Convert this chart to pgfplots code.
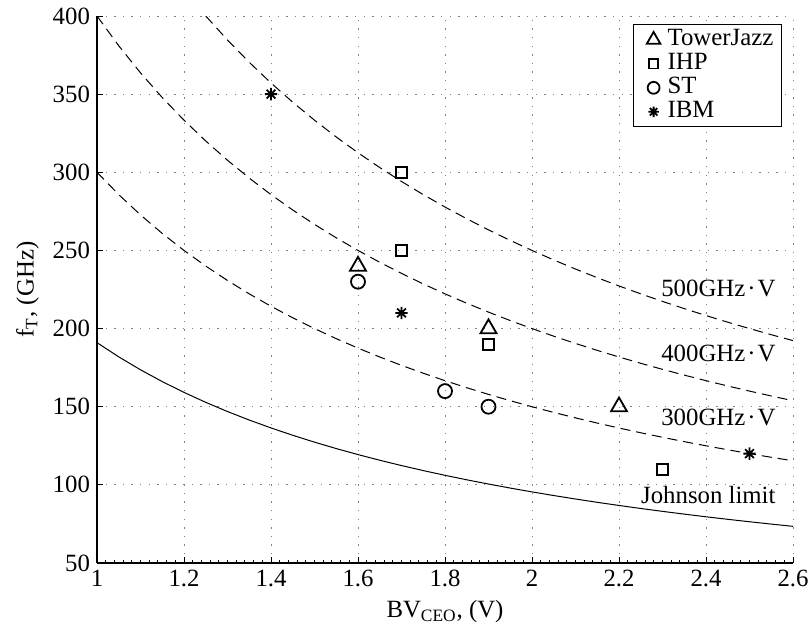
\documentclass[border=0pt]{standalone}
\usepackage{fontspec}
\setmainfont{Liberation Serif}
\usepackage{pgfplots}
\pgfplotsset{compat=1.18}
\pgfdeclareplotmark{mstar}{%
 \pgfpathmoveto{\pgfqpoint{-\pgfplotmarksize}{0pt}}\pgfpathlineto{\pgfqpoint{\pgfplotmarksize}{0pt}}%
 \pgfpathmoveto{\pgfqpoint{0pt}{-\pgfplotmarksize}}\pgfpathlineto{\pgfqpoint{0pt}{\pgfplotmarksize}}%
 \pgfpathmoveto{\pgfqpoint{-0.7071\pgfplotmarksize}{-0.7071\pgfplotmarksize}}\pgfpathlineto{\pgfqpoint{0.7071\pgfplotmarksize}{0.7071\pgfplotmarksize}}%
 \pgfpathmoveto{\pgfqpoint{-0.7071\pgfplotmarksize}{0.7071\pgfplotmarksize}}\pgfpathlineto{\pgfqpoint{0.7071\pgfplotmarksize}{-0.7071\pgfplotmarksize}}%
 \pgfusepathqstroke}
\begin{document}
\begin{tikzpicture}[font=\fontsize{12.4}{14}\selectfont]
\begin{axis}[
  scale only axis,
  width=348pt, height=273.5pt,
  xmin=1, xmax=2.6, ymin=50, ymax=400,
  xtick={1,1.2,...,2.6}, ytick={50,100,...,400},
  minor x tick num=9,
  axis x line*=bottom, axis y line*=left,
  axis line style={-, line width=0.6pt},
  tick align=inside,
  major tick length=3pt, minor tick length=1.5pt,
  tick style={black, line width=0.5pt},
  grid=major,
  major grid style={gray, line width=0.5pt, dash pattern=on 0.7pt off 3.6pt},
  /pgf/number format/assume math mode=true,
  xlabel={BV\textsubscript{CEO}, (V)},
  ylabel={f\textsubscript{T}, (GHz)},
  legend style={at={(0.984,0.985)}, anchor=north east, draw=black, line width=0.6pt,
    legend cell align=left, inner xsep=2pt, inner ysep=2pt, row sep=1pt,
    nodes={inner xsep=2pt, inner ysep=0pt, text height=8.5pt, text depth=2.5pt}},
  legend image code/.code={%
    \path[draw=none, fill=none] (0,0) -- (13pt,0);
    \draw[#1, draw=none, mark options={scale=0.85, draw=black}] plot coordinates {(8pt,0pt)};},
  legend entries={TowerJazz\hspace{15pt}, IHP, ST, IBM},
]
\addplot[only marks, mark=triangle, mark size=4.6pt, line width=0.9pt] coordinates {(1.6,240) (1.9,200) (2.2,150)};
\addplot[only marks, mark=square, mark size=2.8pt, line width=0.9pt] coordinates {(1.7,300) (1.7,250) (1.9,190) (2.3,110)};
\addplot[only marks, mark=o, mark size=3.5pt, line width=0.9pt] coordinates {(1.6,230) (1.8,160) (1.9,150)};
\addplot[only marks, mark=mstar, mark size=3.1pt, line width=0.9pt] coordinates {(1.4,350) (1.7,210) (2.5,120)};

\addplot[black, line width=0.5pt, dash pattern=on 5pt off 3pt, forget plot] coordinates {
(1.25,400) (1.3,384.615) (1.35,370.370) (1.4,357.143) (1.45,344.828) (1.5,333.333) (1.55,322.581) (1.6,312.5) (1.65,303.030) (1.7,294.118) (1.75,285.714) (1.8,277.778) (1.85,270.270) (1.9,263.158) (1.95,256.410) (2.0,250) (2.05,243.902) (2.1,238.095) (2.15,232.558) (2.2,227.273) (2.25,222.222) (2.3,217.391) (2.35,212.766) (2.4,208.333) (2.45,204.082) (2.5,200) (2.55,196.078) (2.6,192.308)};
\addplot[black, line width=0.5pt, dash pattern=on 5pt off 3pt, forget plot] coordinates {
(1.0,400) (1.05,380.952) (1.1,363.636) (1.15,347.826) (1.2,333.333) (1.25,320) (1.3,307.692) (1.35,296.296) (1.4,285.714) (1.45,275.862) (1.5,266.667) (1.55,258.065) (1.6,250) (1.65,242.424) (1.7,235.294) (1.75,228.571) (1.8,222.222) (1.85,216.216) (1.9,210.526) (1.95,205.128) (2.0,200) (2.05,195.122) (2.1,190.476) (2.15,186.047) (2.2,181.818) (2.25,177.778) (2.3,173.913) (2.35,170.213) (2.4,166.667) (2.45,163.265) (2.5,160) (2.55,156.863) (2.6,153.846)};
\addplot[black, line width=0.5pt, dash pattern=on 5pt off 3pt, forget plot] coordinates {
(1.0,300) (1.05,285.714) (1.1,272.727) (1.15,260.870) (1.2,250) (1.25,240) (1.3,230.769) (1.35,222.222) (1.4,214.286) (1.45,206.897) (1.5,200) (1.55,193.548) (1.6,187.5) (1.65,181.818) (1.7,176.471) (1.75,171.429) (1.8,166.667) (1.85,162.162) (1.9,157.895) (1.95,153.846) (2.0,150) (2.05,146.341) (2.1,142.857) (2.15,139.535) (2.2,136.364) (2.25,133.333) (2.3,130.435) (2.35,127.660) (2.4,125) (2.45,122.449) (2.5,120) (2.55,117.647) (2.6,115.385)};
\addplot[black, line width=0.5pt, forget plot] coordinates {
(1.0,191) (1.05,181.905) (1.1,173.636) (1.15,166.087) (1.2,159.167) (1.25,152.8) (1.3,146.923) (1.35,141.481) (1.4,136.429) (1.45,131.724) (1.5,127.333) (1.55,123.226) (1.6,119.375) (1.65,115.758) (1.7,112.353) (1.75,109.143) (1.8,106.111) (1.85,103.243) (1.9,100.526) (1.95,97.949) (2.0,95.5) (2.05,93.171) (2.1,90.952) (2.15,88.837) (2.2,86.818) (2.25,84.889) (2.3,83.043) (2.35,81.277) (2.4,79.583) (2.45,77.959) (2.5,76.4) (2.55,74.902) (2.6,73.462)};

\node[anchor=east] at (axis cs:2.576,226) {500GHz\kern1pt·\kern1pt V};
\node[anchor=east] at (axis cs:2.576,184) {400GHz\kern1pt·\kern1pt V};
\node[anchor=east] at (axis cs:2.576,143) {300GHz\kern1pt·\kern1pt V};
\node[anchor=east] at (axis cs:2.576,93.5) {Johnson limit};
\end{axis}
\pgfresetboundingbox
\path ([shift={(-48.5pt,-32pt)}]current axis.south west) rectangle ([shift={(8.5pt,8pt)}]current axis.north east);
\end{tikzpicture}
\end{document}
